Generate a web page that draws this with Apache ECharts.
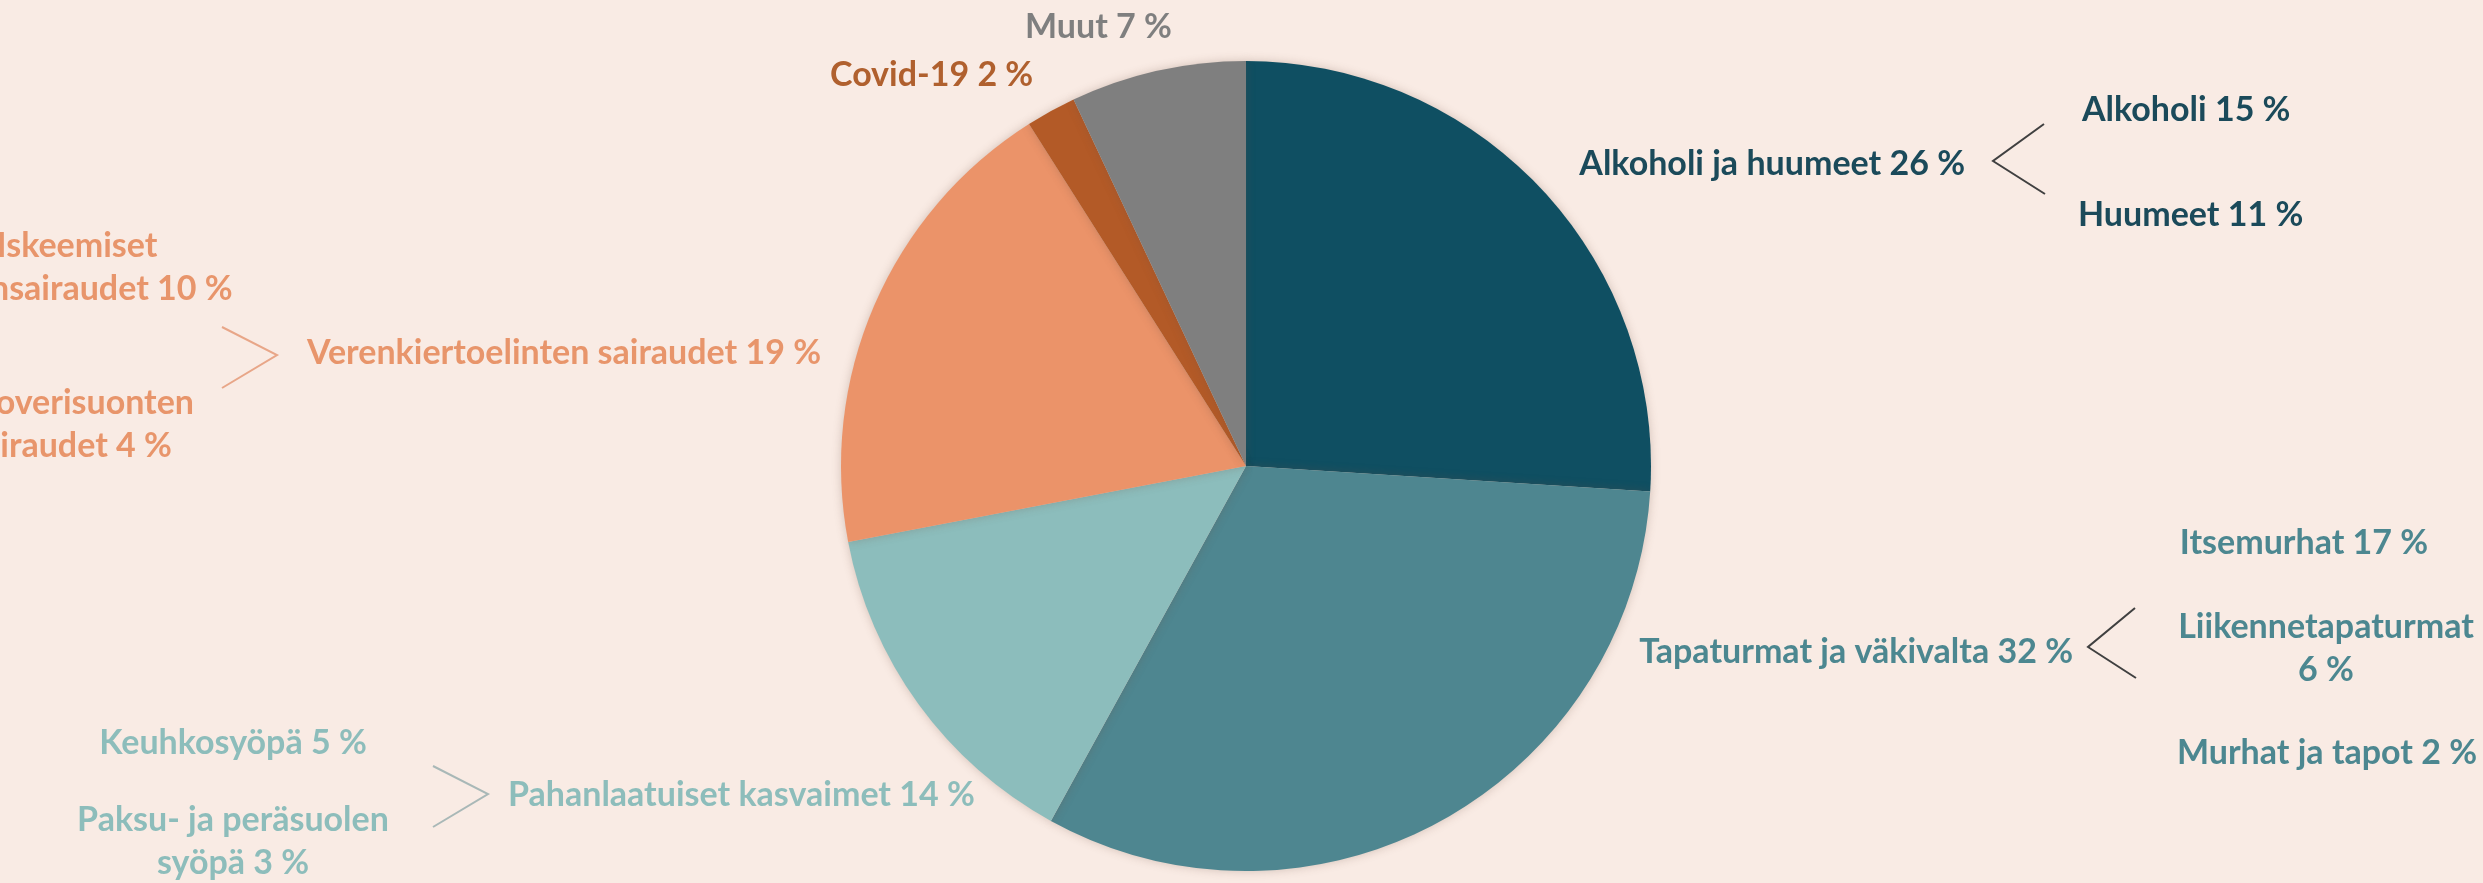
<!DOCTYPE html>
<html>
<head>
<meta charset="utf-8">
<script src="https://cdn.jsdelivr.net/npm/echarts@6/dist/echarts.min.js"></script>
<style>
html,body{margin:0;padding:0;background:#F9EBE4;}
#chart{width:2483px;height:883px;}
</style>
</head>
<body>
<div id="chart"></div>
<script>
// ---- data ----
const categories = ['Alkoholi ja huumeet', 'Tapaturmat ja väkivalta', 'Pahanlaatuiset kasvaimet', 'Verenkiertoelinten sairaudet', 'Covid-19', 'Muut'];
const values = [26, 32, 14, 19, 2, 7];

const alkoholiSubNames = ['Alkoholi', 'Huumeet'];
const alkoholiSubValues = [15, 11];
const tapaturmaSubNames = ['Itsemurhat', 'Liikennetapaturmat\n', 'Murhat ja tapot'];
const tapaturmaSubValues = [17, 6, 2];
const kasvainSubNames = ['Keuhkosyöpä', 'Paksu- ja peräsuolen\nsyöpä'];
const kasvainSubValues = [5, 3];
const verenkiertoSubNames = ['Iskeemiset\nsydänsairaudet', 'Aivoverisuonten\nsairaudet'];
const verenkiertoSubValues = [10, 4];

// ---- styles ----
const sliceColors = ['#0F4F62', '#4E8690', '#8CBDBC', '#EB9369', '#B35A27', '#7F7F7F'];
const textColors = ['#1B4A5A', '#4C8790', '#8DBDBB', '#E8956B', '#B0602E', '#7F7F7F'];
const FONT = 'Lato';
const FS = 34;

// label placement (layout only)
const labelPos = [
  {x: 1965, y: 164, align: 'right'},
  {x: 2073, y: 652, align: 'right'},
  {x: 508, y: 795, align: 'left'},
  {x: 307, y: 353, align: 'left'},
  {x: 830, y: 75, align: 'left'},
  {x: 1025, y: 27, align: 'left'}
];

const fmt = (n, v) => n + ' ' + v + ' %';

function txt(x, y, text, color, align) {
  return {
    type: 'text', x: x, y: y, silent: true,
    style: {
      text: text, fill: color, fontFamily: FONT, fontWeight: 'bold', fontSize: FS,
      lineHeight: 43, align: align || 'center', verticalAlign: 'middle'
    }
  };
}
function chevron(points, color) {
  return {
    type: 'polyline', silent: true,
    shape: {points: points},
    style: {stroke: color, lineWidth: 2, fill: null}
  };
}

const graphics = [
  // Alkoholi ja huumeet breakdown
  txt(2082, 110, fmt(alkoholiSubNames[0], alkoholiSubValues[0]), textColors[0], 'left'),
  txt(2078, 215, fmt(alkoholiSubNames[1], alkoholiSubValues[1]), textColors[0], 'left'),
  chevron([[2044, 124], [1993, 161], [2045, 194]], '#404040'),
  // Tapaturmat breakdown
  txt(2304, 543, fmt(tapaturmaSubNames[0], tapaturmaSubValues[0]), textColors[1], 'center'),
  txt(2326, 649, tapaturmaSubNames[1] + tapaturmaSubValues[1] + ' %', textColors[1], 'center'),
  txt(2327, 753, fmt(tapaturmaSubNames[2], tapaturmaSubValues[2]), textColors[1], 'center'),
  chevron([[2135, 608], [2088, 647], [2136, 678]], '#404040'),
  // Kasvaimet breakdown
  txt(233, 743, fmt(kasvainSubNames[0], kasvainSubValues[0]), textColors[2], 'center'),
  txt(233, 842, fmt(kasvainSubNames[1], kasvainSubValues[1]), textColors[2], 'center'),
  chevron([[433, 766], [488, 794], [433, 827]], '#A9B8B7'),
  // Verenkierto breakdown
  txt(77, 268, fmt(verenkiertoSubNames[0], verenkiertoSubValues[0]), textColors[3], 'center'),
  txt(70, 425, fmt(verenkiertoSubNames[1], verenkiertoSubValues[1]), textColors[3], 'center'),
  chevron([[222, 327], [277, 355], [222, 388]], '#E8A688')
];

const chart = echarts.init(document.getElementById('chart'), null, {renderer: 'canvas'});
chart.setOption({
  backgroundColor: '#F9EBE4',
  animation: false,
  graphic: graphics,
  series: [{
    type: 'pie',
    center: [1246, 466],
    radius: 405,
    startAngle: 90,
    clockwise: true,
    avoidLabelOverlap: false,
    data: categories.map((c, i) => ({
      name: c, value: values[i],
      itemStyle: {color: sliceColors[i]},
      label: {color: textColors[i]}
    })),
    itemStyle: {
      borderWidth: 0,
      shadowBlur: 10,
      shadowColor: 'rgba(110,80,65,0.28)'
    },
    label: {
      show: true,
      position: 'outside',
      formatter: p => fmt(p.name, p.value),
      fontFamily: FONT,
      fontWeight: 'bold',
      fontSize: FS
    },
    labelLine: {show: false},
    labelLayout: function (params) {
      const p = labelPos[params.dataIndex];
      return {x: p.x, y: p.y, align: p.align, verticalAlign: 'middle', hideOverlap: false, moveOverlap: false};
    },
    emphasis: {disabled: true}
  }]
});
</script>
</body>
</html>
